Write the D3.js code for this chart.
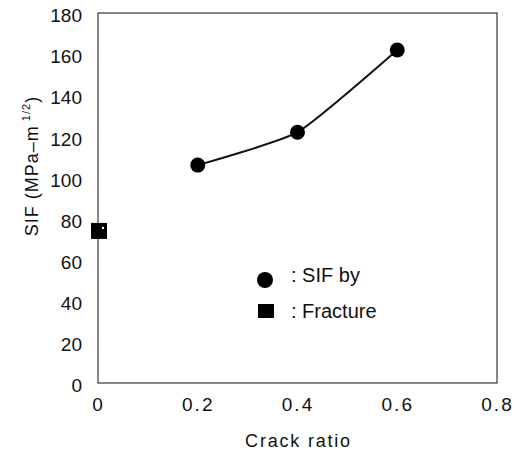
<!DOCTYPE html>
<html><head><meta charset="utf-8">
<script src="https://cdn.jsdelivr.net/npm/d3@7"></script>
<style>body{margin:0;background:#fff}svg{display:block}text{font-family:"Liberation Sans",Arial,sans-serif;fill:#111}</style>
</head><body><svg id="c" width="516" height="452"></svg>
<script>
const crackRatio = [0.2, 0.4, 0.6];
const sifValues = [106, 122, 162];
const fractureRatio = [0];
const fractureValues = [74];
const xTicks = [0, 0.2, 0.4, 0.6, 0.8];
const yTicks = [0, 20, 40, 60, 80, 100, 120, 140, 160, 180];
const legendLabels = [": SIF by", ": Fracture"];

const svg = d3.select("#c");
const L = 98, R = 497, T = 13, B = 383;
const x = d3.scaleLinear().domain([0, 0.8]).range([L, R]);
const y = d3.scaleLinear().domain([0, 180]).range([B, T]);

svg.append("rect").attr("x", L).attr("y", T).attr("width", R - L).attr("height", B - T)
  .attr("fill", "none").attr("stroke", "#222").attr("stroke-width", 1.1);

const ya = svg.append("g").attr("transform", `translate(${L},0)`)
  .call(d3.axisLeft(y).tickValues(yTicks).tickSize(0).tickPadding(16).tickFormat(d3.format("d")));
ya.select(".domain").remove();
ya.selectAll("text").attr("font-size", 19).style("font-family", "Liberation Sans, Arial, sans-serif")
  .attr("fill", "#111").attr("dy", "0.46em");

const xa = svg.append("g").attr("transform", `translate(0,${B})`)
  .call(d3.axisBottom(x).tickValues(xTicks).tickSize(0).tickPadding(15).tickFormat(d => d === 0 ? "0" : d3.format(".1f")(d)));
xa.select(".domain").remove();
xa.selectAll("text").attr("font-size", 19).style("font-family", "Liberation Sans, Arial, sans-serif")
  .attr("fill", "#111").attr("letter-spacing", "2px");

svg.append("text").attr("x", (L + R) / 2 + 1).attr("y", 447).attr("text-anchor", "middle")
  .attr("font-size", 18).attr("letter-spacing", "1.8px").text("Crack ratio");

const yl = svg.append("text").attr("transform", "translate(38,166) rotate(-90)").attr("text-anchor", "middle")
  .attr("font-size", 18).attr("letter-spacing", "1px");
yl.append("tspan").text("SIF (MPa–m");
yl.append("tspan").attr("font-size", 11).attr("dy", -8).attr("dx", 4).text("1/2");
yl.append("tspan").attr("dy", 8).text(")");

const pts = crackRatio.map((c, i) => [c, sifValues[i]]);
svg.append("path").datum(pts)
  .attr("d", d3.line().x(d => x(d[0])).y(d => y(d[1])).curve(d3.curveCardinal.tension(0.5)))
  .attr("fill", "none").attr("stroke", "#111").attr("stroke-width", 2);
svg.selectAll(".pt").data(pts).join("circle")
  .attr("cx", d => x(d[0])).attr("cy", d => y(d[1])).attr("r", 7.5).attr("fill", "#000");

const fr = fractureRatio.map((c, i) => [c, fractureValues[i]]);
svg.selectAll(".sq").data(fr).join("rect")
  .attr("x", d => x(d[0]) - 7).attr("y", d => y(d[1]) - 8).attr("width", 16).attr("height", 16).attr("fill", "#000");
svg.selectAll(".sqd").data(fr).join("rect")
  .attr("x", d => x(d[0]) + 4).attr("y", d => y(d[1]) - 4).attr("width", 2).attr("height", 2).attr("fill", "#fff");

// legend
svg.append("circle").attr("cx", 265).attr("cy", 280).attr("r", 8).attr("fill", "#000");
svg.append("rect").attr("x", 258).attr("y", 304).attr("width", 16).attr("height", 14).attr("fill", "#000");
svg.append("text").attr("x", 291).attr("y", 282).attr("font-size", 20).text(legendLabels[0]);
svg.append("text").attr("x", 291).attr("y", 318).attr("font-size", 20).text(legendLabels[1]);
</script></body></html>
